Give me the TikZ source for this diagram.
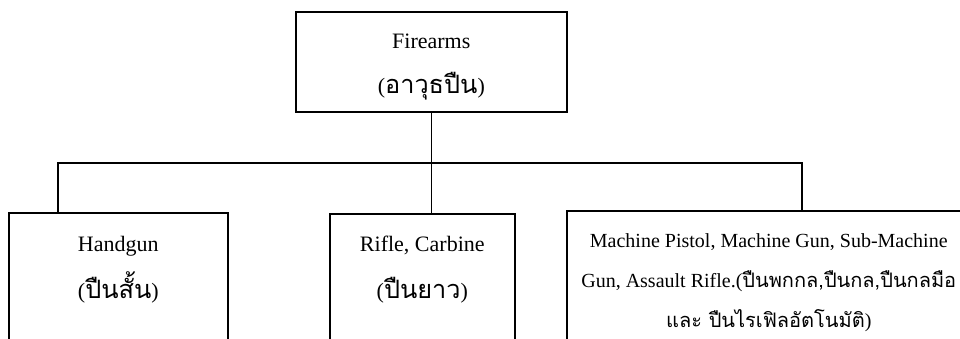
\documentclass[tikz,border=0pt]{standalone}
\usepackage{fontspec}
\setmainfont{Liberation Serif}
\newfontfamily\thaifont[Script=Thai, Scale=1.15]{Loma}
\newfontfamily\thaismall[Script=Thai]{Loma}
\usetikzlibrary{positioning, calc}

\newcommand{\thai}[1]{{\thaifont #1}}

\begin{document}
\begin{tikzpicture}[x=0.5pt, y=0.5pt,
        block/.style={rectangle, draw, line width=0.8pt, inner sep=0pt, anchor=north west},
        txt/.style={align=center, inner sep=0pt, font=\fontsize{11}{23.5}\selectfont},
        line/.style={draw, line width=0.8pt}]

        \useasboundingbox (0,0) rectangle (960,338);
        \clip (0,0) rectangle (960,338);

        % Boxes
        \node [block, minimum width=135.5pt, minimum height=50pt] (firearms) at (295,327) {};
        \node [block, minimum width=109.5pt, minimum height=120pt] (handgun) at (8,126) {};
        \node [block, minimum width=92.5pt, minimum height=120pt] (rifle) at (329,125) {};
        \node [block, minimum width=202pt, minimum height=120pt] (machine) at (566,128) {};

        % Labels
        \node [txt, font=\fontsize{11}{22.5}\selectfont] (firearms-txt) at ($(firearms.north)+(0,-56)$)
              {Firearms\\(\thai{อาวุธปืน})};
        \node [txt] (handgun-txt) at ($(handgun.north)+(0,-58)$) {Handgun\\(\thai{ปืนสั้น})};
        \node [txt] (rifle-txt) at ($(rifle.north)+(0,-57)$) {Rifle, Carbine\\(\thai{ปืนยาว})};
        \node [txt, font=\fontsize{10}{20}\selectfont] (machine-txt) at ($(machine.north)+(0,-73)$)
              {Machine Pistol, Machine Gun, Sub-Machine\\
               Gun, Assault Rifle.({\thaismall ปืนพกกล,ปืนกล,ปืนกลมือ}\\
               {\thaismall และ ปืนไรเฟิลอัตโนมัติ})};

        % Lines
        \coordinate (bus) at ($(firearms.south)+(0,-52)$);
        \coordinate (bus-l) at (58,175);
        \coordinate (bus-r) at (802,175);
        \path [line] (firearms.south) -- (bus);
        \path [line] (bus-l |- handgun.north) -- (bus-l) -- (bus-r) -- (bus-r |- machine.north);
        \path [line] (bus) -- (bus |- rifle.north);
    \end{tikzpicture}
\end{document}
